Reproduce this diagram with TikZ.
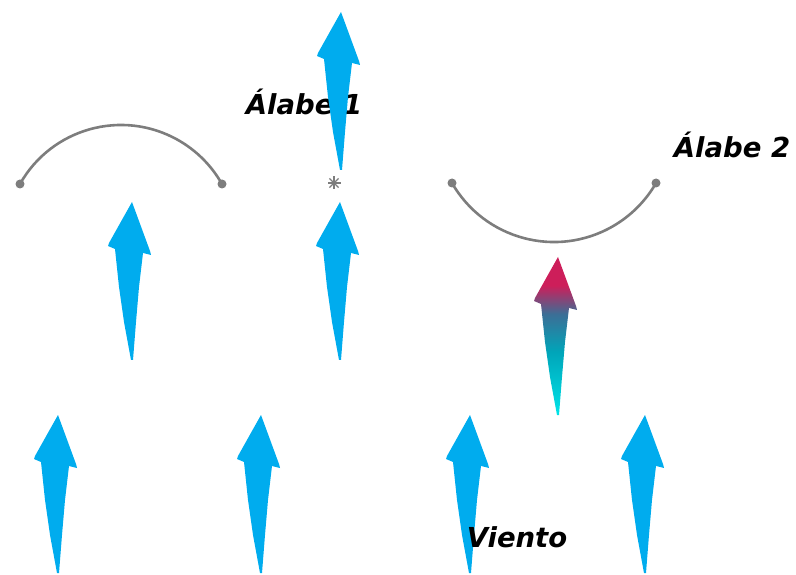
\documentclass[tikz,border=0pt]{standalone}
\usepackage{fontspec}
\setmainfont{DejaVu Sans}
\usepackage{tikz}
\definecolor{windblue}{RGB}{0, 172, 238}
\definecolor{bladegray}{RGB}{125, 125, 125}
\definecolor{gcyan}{RGB}{0, 228, 232}
\definecolor{gteal}{RGB}{0, 165, 185}
\definecolor{gsteel}{RGB}{60, 110, 150}
\definecolor{gcrimson}{RGB}{205, 30, 90}
\pgfdeclareverticalshading{windgrad}{100bp}{color(0bp)=(gcyan); color(25bp)=(gcyan); color(45bp)=(gteal); color(57bp)=(gsteel); color(66bp)=(gcrimson); color(75bp)=(gcrimson); color(100bp)=(gcrimson)}
\tikzset{
  windarrow/.pic={
    \path[#1] (0,0) -- (18,-49) -- (19,-53) -- (11,-51) -- (7,-85) -- (4,-120)
      -- (1,-158) -- (-1,-158) -- (-8,-120) -- (-13,-85) -- (-17,-47)
      -- (-24,-44) -- (-23,-41) -- (-9,-16) -- cycle;
  },
  blade/.style={bladegray, line width=2.6pt},
  bladelabel/.style={font=\fontsize{27.5}{30}\selectfont\bfseries\itshape}
}

\begin{document}
\begin{tikzpicture}[x=1pt,y=1pt]
\useasboundingbox (0,0) rectangle (796,574);
% Blades
\draw[blade] (20,390) arc[start angle=150.6, end angle=29.4, radius=115.9];
\fill[bladegray] (20,390) circle (4.5) (222,390) circle (4.5);
\draw[blade] (452,391) arc[start angle=209.9, end angle=330.1, radius=117.7];
\fill[bladegray] (452,391) circle (4.5) (656,391) circle (4.5);
% Labels under the arrows
\node[bladelabel] (alabeA) at (304,472) {Álabe 1};
\node[bladelabel] (alabeB) at (732,429) {Álabe 2};
% Wind arrows
\pic at (132,372) {windarrow={fill=windblue}};
\pic at (340,372) {windarrow={fill=windblue}};
\pic at (341,562) {windarrow={fill=windblue}};
\pic at (558,317) {windarrow={shade,shading=windgrad}};
\foreach \x in {58,261,470,645}
  \pic at (\x,159) {windarrow={fill=windblue}};
% Centre mark
\foreach \a in {0,45,90,135}
  \draw[bladegray, line width=1.3pt] (334,391) ++(\a:6.5) -- ++(\a+180:13);
\node[bladelabel] (viento) at (517,37) {Viento};
\end{tikzpicture}
\end{document}
